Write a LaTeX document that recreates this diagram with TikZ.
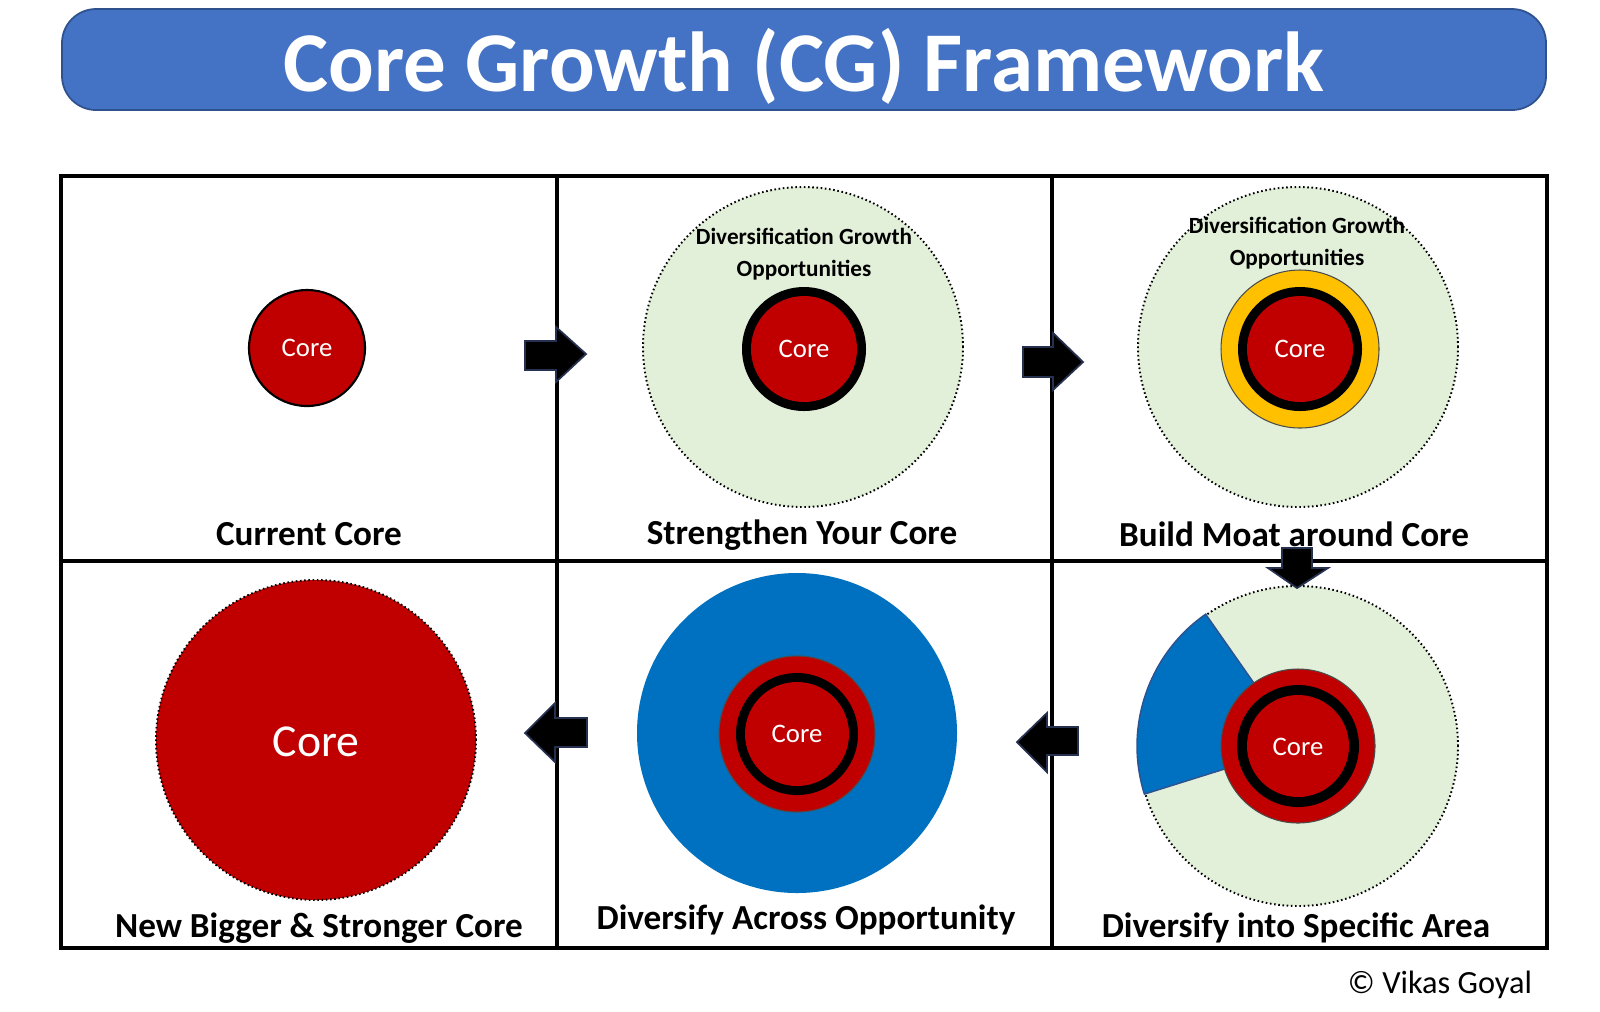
\documentclass[tikz,border=0pt]{standalone}
\usepackage{fontspec}
\setmainfont{Carlito}
\definecolor{titleblue}{HTML}{4472C4}
\definecolor{titleedge}{HTML}{2F528F}
\definecolor{corered}{HTML}{C00000}
\definecolor{oppgreen}{HTML}{E2F0D9}
\definecolor{divblue}{HTML}{0070C0}
\definecolor{moatyellow}{HTML}{FFC000}
\definecolor{arrowedge}{HTML}{26304F}
\begin{document}
\begin{tikzpicture}[x=0.01cm,y=0.01cm,
  panelline/.style={draw=black,line width=1.3pt},
  oppzone/.style={fill=oppgreen,draw=black,line width=0.55pt,dash pattern=on 0.45pt off 0.75pt},
  blockarrow/.style={fill=black,draw=arrowedge,line width=0.5pt,line join=miter},
  coretext/.style={text=white,font=\fontsize{7.6}{9}\selectfont},
  labeltext/.style={font=\fontsize{10}{12}\selectfont\bfseries},
  opptext/.style={font=\fontsize{6.6}{8}\selectfont\bfseries,align=center},
  ringline/.style={draw=black!70,line width=0.3pt}
]
\useasboundingbox (0,0) rectangle (1600,-1011);
\fill[white] (0,0) rectangle (1600,-1011);

% title
\draw[fill=titleblue,draw=titleedge,line width=0.5pt,rounded corners=0.34cm] (62,-9) rectangle (1546,-110);
\node[text=white,font=\fontsize{24.2}{29}\selectfont\bfseries] (title) at (804,-66) {Core Growth (CG) Framework};

% panel grid
\draw[panelline] (61,-176) rectangle (1547,-948);
\draw[panelline] (557,-176) -- (557,-948);
\draw[panelline] (1052,-176) -- (1052,-948);
\draw[panelline] (61,-561) -- (1547,-561);

% panel 1: current core
\draw[fill=corered,draw=black,line width=0.6pt] (307,-348) circle[radius=58];
\node[coretext] (core1) at (307,-348) {Core};
\node[labeltext] (lab1) at (309,-534) {Current Core};

% panel 2: strengthen
\draw[oppzone] (803,-347) circle[radius=160];
\fill[black] (804,-349) circle[radius=62];
\fill[corered] (804,-349) circle[radius=53];
\node[coretext] (core2) at (804,-349) {Core};
\node[opptext] (opp2) at (804,-254) {Diversification Growth\\[1.2pt]Opportunities};
\node[labeltext] (lab2) at (802,-535) {Strengthen Your Core};

% panel 3: moat
\draw[oppzone] (1298,-347) circle[radius=160];
\draw[fill=moatyellow,ringline] (1300,-349) circle[radius=79];
\fill[black] (1300,-349) circle[radius=62];
\fill[corered] (1300,-349) circle[radius=53];
\node[coretext] (core3) at (1300,-349) {Core};
\node[opptext] (opp3) at (1297,-243) {Diversification Growth\\[1.2pt]Opportunities};
\node[labeltext] (lab3) at (1294,-534) {Build Moat around Core};

% panel 6: specific area
\draw[oppzone] (1298,-746) circle[radius=160];
\draw[fill=divblue,draw=titleedge,line width=0.4pt] (1298,-746) -- ++(125:161) arc[start angle=125,end angle=197.4,radius=161] -- cycle;
\draw[fill=corered,ringline] (1298,-746) circle[radius=77];
\fill[black] (1298,-746) circle[radius=61];
\fill[corered] (1298,-746) circle[radius=51];
\node[coretext] (core6) at (1298,-747) {Core};
\node[labeltext] (lab6) at (1296,-928) {Diversify into Specific Area};

% panel 5: across opportunity
\fill[divblue] (797,-733) circle[radius=160];
\draw[fill=corered,ringline] (797,-734) circle[radius=78];
\fill[black] (797,-734) circle[radius=61];
\fill[corered] (797,-734) circle[radius=52];
\node[coretext] (core5) at (797,-734) {Core};
\node[labeltext] (lab5) at (806,-920) {Diversify Across Opportunity};

% panel 4: bigger core
\draw[fill=corered,draw=black,line width=0.55pt,dash pattern=on 0.45pt off 0.75pt] (316,-740) circle[radius=160];
\node[text=white,font=\fontsize{13}{15}\selectfont] (core4) at (316,-742) {Core};
\node[labeltext] (lab4) at (319,-928) {New Bigger \& Stronger Core};

% block arrows
\draw[blockarrow] (525,-341) -- (556,-341) -- (556,-327) -- (586,-354) -- (556,-382) -- (556,-370) -- (525,-370) -- cycle;
\draw[blockarrow] (1023,-347) -- (1053,-347) -- (1053,-333) -- (1083,-362) -- (1053,-390) -- (1053,-377) -- (1023,-377) -- cycle;
\draw[blockarrow] (1282,-548) -- (1312,-548) -- (1312,-568) -- (1328,-568) -- (1297,-588) -- (1268,-568) -- (1282,-568) -- cycle;
\draw[blockarrow] (1078,-727) -- (1047,-727) -- (1047,-713) -- (1017,-742) -- (1047,-772) -- (1047,-755) -- (1078,-755) -- cycle;
\draw[blockarrow] (587,-718) -- (555,-718) -- (555,-703) -- (525,-733) -- (555,-762) -- (555,-747) -- (587,-747) -- cycle;

% credit
\node[font=\fontsize{9.2}{11}\selectfont] (credit) at (1440,-985) {© Vikas Goyal};
\end{tikzpicture}
\end{document}
